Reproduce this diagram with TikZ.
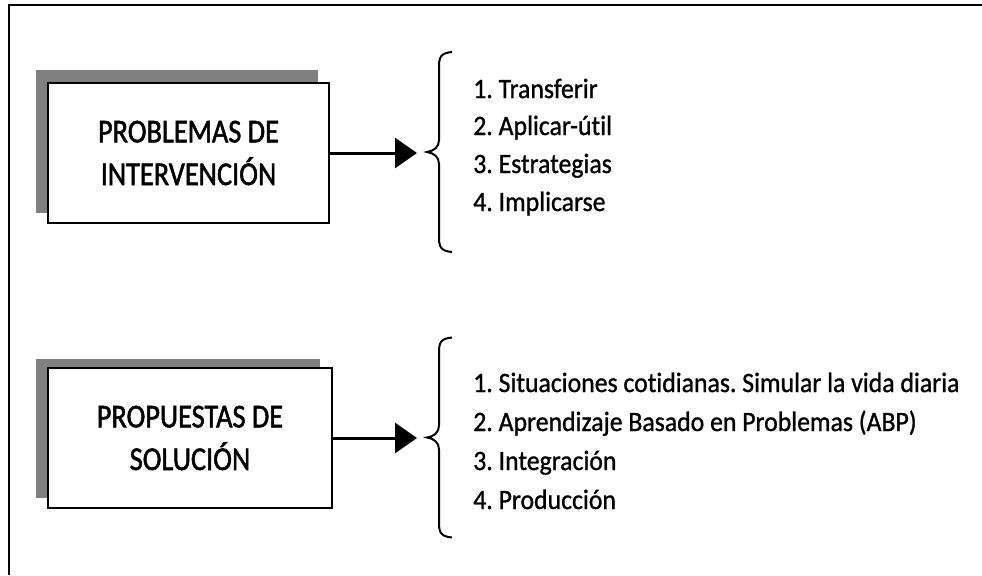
\documentclass[tikz,border=0pt]{standalone}
\usepackage{fontspec}
\setmainfont{Carlito}[Ligatures=NoCommon]
\newfontfamily\boxfont{Carlito}[Ligatures=NoCommon,FakeStretch=0.85,FakeBold=1.5]
\newfontfamily\listfont{Carlito}[Ligatures=NoCommon,FakeStretch=0.92,FakeBold=1]
\usetikzlibrary{arrows.meta}
\definecolor{shadowgray}{HTML}{808080}
\frenchspacing
\begin{document}
\begin{tikzpicture}[x=0.75pt,y=-0.75pt,
  boxnode/.style={draw=black,line width=1.5pt,fill=white,inner sep=0pt,
    minimum width=211pt,minimum height=105pt,align=center,
    font=\boxfont\fontsize{25}{32}\selectfont},
  shadowbox/.style={fill=shadowgray},
  item/.style={anchor=base west,inner sep=0pt,font=\listfont\fontsize{21}{25}\selectfont},
  conn/.style={line width=2.25pt,-{Triangle[length=16.5pt,width=22.5pt]},shorten >=7.5pt},
  curlybrace/.pic={
    \draw[line width=1.5pt] (25,-100) .. controls (13,-99) and (12,-94) .. (12,-85)
      -- (12,-12) .. controls (12,-5) and (7,-1) .. (0,0)
      .. controls (7,1) and (12,5) .. (12,12)
      -- (12,85) .. controls (12,94) and (13,99) .. (25,100);
    \coordinate (-tip) at (0,0);
  }
]
\useasboundingbox (0,0) rectangle (982,575);
% outer frame (top and left edges)
\draw[line width=2pt] (982,5) -- (9,5) -- (9,575);

% block 1
\fill[shadowbox] (36,70) rectangle (318,213);
\node[boxnode] (b1) at (188.5,153) {PROBLEMAS DE\\INTERVENCIÓN};
\pic (br1) at (427,152) {curlybrace};
\draw[conn] (b1.east) -- (b1.east -| br1-tip);
\node[item] (p1) at (473,98) {1. Transferir};
\node[item] (p2) at (473,135) {2. Aplicar-útil};
\node[item] (p3) at (473,173) {3. Estrategias};
\node[item] (p4) at (473,211) {4. Implicarse};

% block 2
\fill[shadowbox] (36,359) rectangle (320,498);
\node[boxnode,minimum width=213pt] (b2) at (190,438) {PROPUESTAS DE\\SOLUCIÓN};
\pic (br2) at (427,437.5) {curlybrace};
\draw[conn] (b2.east) -- (b2.east -| br2-tip);
\node[item] (s1) at (473,392) {1. Situaciones cotidianas. Simular la vida diaria};
\node[item] (s2) at (473,431) {2. Aprendizaje Basado en Problemas (ABP)};
\node[item] (s3) at (473,470) {3. Integración};
\node[item] (s4) at (473,509) {4. Producción};
\end{tikzpicture}
\end{document}
